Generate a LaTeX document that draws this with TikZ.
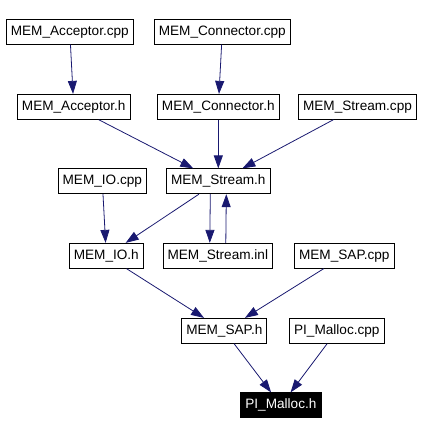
\documentclass[tikz,border=0pt]{standalone}
\usepackage{fontspec}
\setmainfont{Liberation Sans}
\usepackage{tikz}
\usetikzlibrary{arrows.meta}
\definecolor{bleunuit}{RGB}{25,25,112}

\begin{document}
\begin{tikzpicture}[x=1pt,y=-1pt,
fichier/.style={draw, line width=0.8pt, inner xsep=4.5pt, inner ysep=0pt, minimum height=25pt, font=\fontsize{13.6}{15}\selectfont},
inclut/.style={-{Triangle[length=13pt,width=9pt]}, bleunuit, line width=0.8pt}]
\useasboundingbox (0,0) rectangle (420,435);
\node [fichier] (A) at (69.8,31.8) {MEM\_Acceptor.cpp};
\node [fichier] (B) at (222.3,31.8) {MEM\_Connector.cpp};
\node [fichier] (C) at (73.7,106.8) {MEM\_Acceptor.h};
\node [fichier] (D) at (218.3,106.8) {MEM\_Connector.h};
\node [fichier] (E) at (357.5,106.8) {MEM\_Stream.cpp};
\node [fichier] (F) at (102.3,181.3) {MEM\_IO.cpp};
\node [fichier] (G) at (218.3,181.3) {MEM\_Stream.h};
\node [fichier] (H) at (106.3,255.8) {MEM\_IO.h};
\node [fichier] (I) at (217.8,255.8) {MEM\_Stream.inl};
\node [fichier] (J) at (344.3,255.8) {MEM\_SAP.cpp};
\node [fichier] (K) at (224.3,330.8) {MEM\_SAP.h};
\node [fichier] (L) at (336.8,330.8) {PI\_Malloc.cpp};
\node [fichier, fill=black, text=white] (M) at (280.9,405.3) {PI\_Malloc.h};
%dependances
\draw[inclut] (A) -- (C);
\draw[inclut] (B) -- (D);
\draw[inclut] (C) -- (G);
\draw[inclut] (D) -- (G);
\draw[inclut] (E) -- (G);
\draw[inclut] (F) -- (H);
\draw[inclut] (G) -- (H);
\draw[inclut] ([xshift=-8pt]G.south) -- ([xshift=-8pt]I.north);
\draw[inclut] ([xshift=8pt]I.north) -- ([xshift=8pt]G.south);
\draw[inclut] (H) -- (K);
\draw[inclut] (J) -- (K);
\draw[inclut] (K) -- (M);
\draw[inclut] (L) -- (M);
\end{tikzpicture}
\end{document}
